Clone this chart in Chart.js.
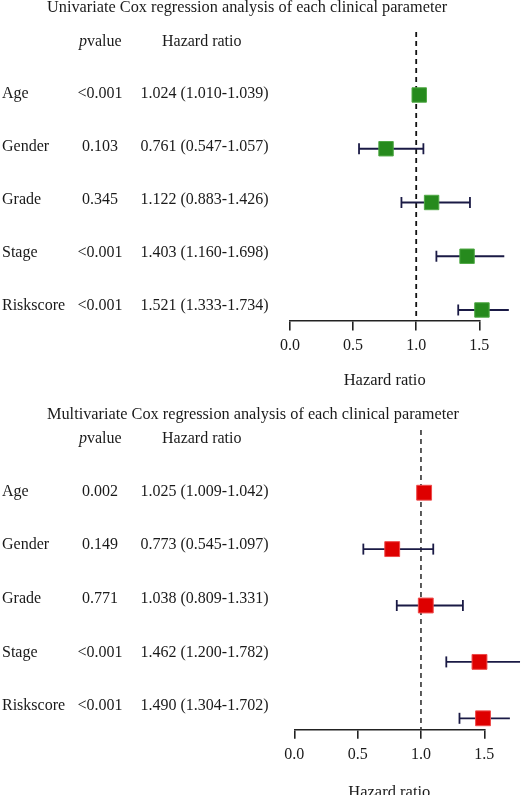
<!DOCTYPE html>
<html>
<head>
<meta charset="utf-8">
<script src="https://cdn.jsdelivr.net/npm/chart.js@4/dist/chart.umd.min.js"></script>
<style>
  html, body { margin: 0; padding: 0; background: #fff; overflow: hidden; }
  canvas { position: absolute; left: 0; }
  #uniChart { top: 0; }
  #multiChart { top: 390px; }
</style>
</head>
<body>
<canvas id="uniChart" width="522" height="390"></canvas>
<canvas id="multiChart" width="522" height="415"></canvas>
<script>
// 变量名称
var rowNames = ['Age', 'Gender', 'Grade', 'Stage', 'Riskscore']
var xTicks = [0, 0.5, 1.0, 1.5]

// 单因素
var uniP = ['<0.001', '0.103', '0.345', '<0.001', '<0.001']
var uniHR = [1.024, 0.761, 1.122, 1.403, 1.521]
var uniLow = [1.010, 0.547, 0.883, 1.160, 1.333]
var uniHigh = [1.039, 1.057, 1.426, 1.698, 1.734]

// 多因素
var multiP = ['0.002', '0.149', '0.771', '<0.001', '<0.001']
var multiHR = [1.025, 0.773, 1.038, 1.462, 1.490]
var multiLow = [1.009, 0.545, 0.809, 1.200, 1.304]
var multiHigh = [1.042, 1.097, 1.331, 1.782, 1.702]

var SERIF = "'Liberation Serif', 'DejaVu Serif', serif"
var TEXT = '#1a1a1a'
var NAVY = '#1a1a45'

/** 表格文字：标题、p值、HR */
var tablePlugin = {
    id: 'table',
    afterDraw: function (chart) {
        var o = chart.options.plugins.table
        var ctx = chart.ctx
        var yScale = chart.scales.y
        var top = chart.chartArea.top
        ctx.save()
        ctx.fillStyle = TEXT
        ctx.textBaseline = 'middle'
        ctx.textAlign = 'left'
        ctx.font = '16.3px ' + SERIF
        ctx.fillText(o.title, 47, o.titleY)

        // 表头
        var hy = top + o.headerGap
        ctx.font = 'italic 16px ' + SERIF
        ctx.fillText('p', 79, hy)
        var pw = ctx.measureText('p').width
        ctx.font = '16px ' + SERIF
        ctx.fillText('value', 79 + pw, hy)
        ctx.fillText('Hazard ratio', 162, hy)

        for (var i = 0; i < rowNames.length; i++) {
            var y = yScale.getPixelForValue(i * o.textStep + o.textShift)
            ctx.textAlign = 'left'
            ctx.fillText(rowNames[i], 2, y)
            ctx.textAlign = 'center'
            ctx.fillText(o.p[i], 100, y)
            ctx.textAlign = 'left'
            var s = o.hr[i].toFixed(3) + ' (' + o.low[i].toFixed(3) + '-' + o.high[i].toFixed(3) + ')'
            ctx.fillText(s, 140.5, y)
        }
        ctx.restore()
    }
}

function createForest(id, cfg) {
    var datasets = []
    // 参考线 HR = 1
    datasets.push({
        data: [{ x: 1, y: cfg.yMin }, { x: 1, y: cfg.yMax }],
        showLine: true,
        borderColor: cfg.refColor,
        borderWidth: 1.8,
        borderDash: [5, 4],
        pointRadius: 0,
        clip: false,
        order: 3
    })
    // 置信区间
    for (var i = 0; i < rowNames.length; i++) {
        datasets.push({
            data: [{ x: cfg.low[i], y: i }, { x: cfg.high[i], y: i }],
            showLine: true,
            borderColor: NAVY,
            borderWidth: 1.8,
            pointStyle: 'line',
            pointRotation: 90,
            pointRadius: 5.5,
            pointBorderColor: NAVY,
            pointBorderWidth: 1.8,
            clip: false,
            order: 2
        })
    }
    // HR 方块
    datasets.push({
        data: cfg.hr.map(function (v, i) { return { x: v, y: i } }),
        pointStyle: 'rect',
        pointRadius: cfg.boxR,
        backgroundColor: cfg.boxColor,
        borderColor: cfg.boxBorder,
        borderWidth: 1,
        clip: false,
        order: 1
    })

    return new Chart(document.getElementById(id).getContext('2d'), {
        type: 'scatter',
        data: { datasets: datasets },
        options: {
            responsive: false,
            animation: false,
            layout: { padding: { left: cfg.left, right: 522 - cfg.right, top: cfg.top, bottom: 0 } },
            plugins: {
                legend: { display: false },
                tooltip: { enabled: false },
                table: {
                    title: cfg.title, titleY: cfg.titleY, headerGap: cfg.headerGap,
                    textStep: cfg.textStep, textShift: cfg.textShift,
                    p: cfg.p, hr: cfg.hr, low: cfg.low, high: cfg.high
                }
            },
            scales: {
                x: {
                    type: 'linear',
                    min: xTicks[0],
                    max: xTicks[xTicks.length - 1],
                    afterFit: function (s) { s.height = cfg.axisH },
                    afterBuildTicks: function (s) { s.ticks = xTicks.map(function (v) { return { value: v } }) },
                    ticks: {
                        color: TEXT,
                        padding: 6,
                        maxRotation: 0,
                        font: { family: SERIF, size: 16 },
                        callback: function (v) { return Number(v).toFixed(1) }
                    },
                    grid: { drawOnChartArea: false, drawTicks: true, tickLength: 9.5, color: '#222', lineWidth: 1.6 },
                    border: { display: true, color: '#222', width: 1.6 },
                    title: {
                        display: true,
                        text: 'Hazard ratio',
                        color: TEXT,
                        font: { family: SERIF, size: 16.5, lineHeight: 1 },
                        padding: { top: 0, bottom: cfg.titlePad }
                    }
                },
                y: { type: 'linear', reverse: true, min: cfg.yMin, max: cfg.yMax, display: false }
            }
        },
        plugins: [tablePlugin]
    })
}

createForest('uniChart', {
    title: 'Univariate Cox regression analysis of each clinical parameter',
    titleY: 8, headerGap: 9.7, textStep: 0.99, textShift: -0.03,
    p: uniP, hr: uniHR, low: uniLow, high: uniHigh,
    left: 290, right: 479.3, top: 32, axisH: 69, titlePad: 1.5,
    yMin: -1.172, yMax: 4.205,
    refColor: '#111', boxColor: '#268a1d', boxBorder: '#4fa845', boxR: 10.2
})

createForest('multiChart', {
    title: 'Multivariate Cox regression analysis of each clinical parameter',
    titleY: 25, headerGap: 9, textStep: 0.95, textShift: -0.018,
    p: multiP, hr: multiHR, low: multiLow, high: multiHigh,
    left: 294.3, right: 484.3, top: 40, axisH: 75.7, titlePad: 4.5,
    yMin: -1.112, yMax: 4.195,
    refColor: '#4a4a4a', boxColor: '#de0000', boxBorder: '#ee4a4a', boxR: 10.5
})
</script>
</body>
</html>
